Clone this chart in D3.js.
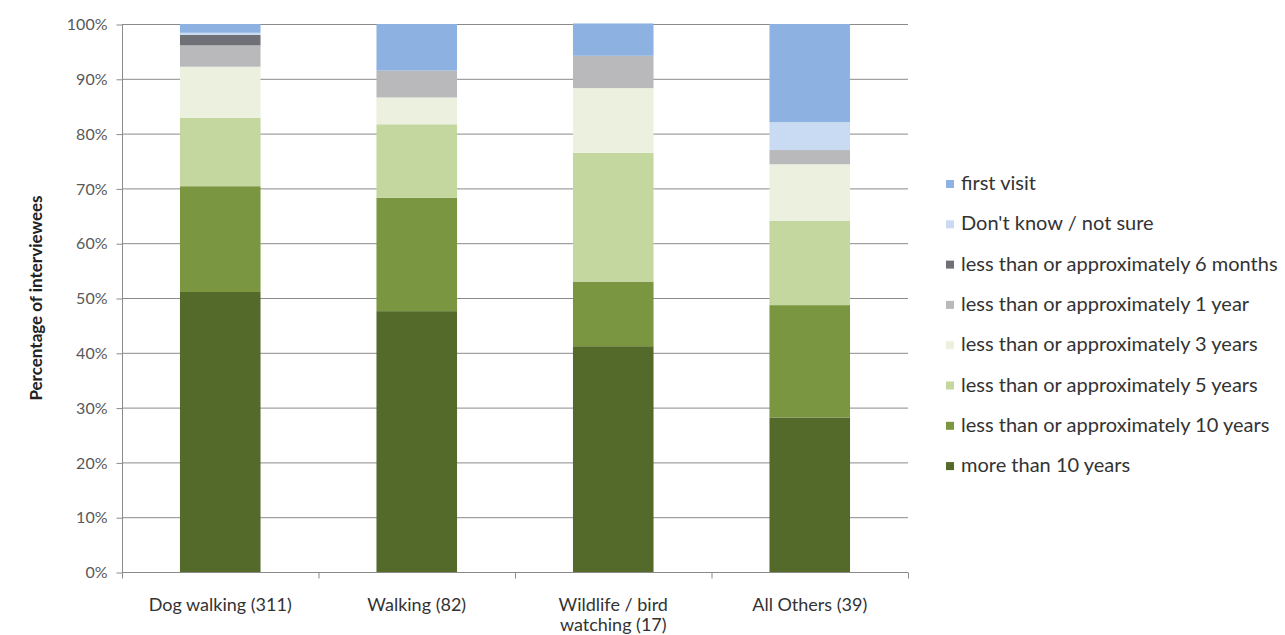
<!DOCTYPE html>
<html>
<head>
<meta charset="utf-8">
<script src="https://cdn.jsdelivr.net/npm/d3@7"></script>
<style>
  html, body { margin: 0; padding: 0; background: #fff; }
  svg { display: block; }
  text { font-family: Lato, "Open Sans", "DejaVu Sans", sans-serif; }
</style>
</head>
<body>
<svg id="chart" width="1285" height="635"></svg>
<script>
// Activity groups (number of interviewees in brackets)
const categories = ["Dog walking (311)", "Walking (82)", "Wildlife / bird watching (17)", "All Others (39)"];
const categoryLines = [["Dog walking (311)"], ["Walking (82)"], ["Wildlife / bird", "watching (17)"], ["All Others (39)"]];

// Length of visiting, stacked from the bottom up (percent of interviewees)
const seriesNames = [
  "more than 10 years",
  "less than or approximately 10 years",
  "less than or approximately 5 years",
  "less than or approximately 3 years",
  "less than or approximately 1 year",
  "less than or approximately 6 months",
  "Don't know / not sure",
  "first visit"
];
const moreThan10Years = [51.1, 47.6, 41.2, 28.2];
const upTo10Years     = [19.3, 20.7, 11.8, 20.5];
const upTo5Years      = [12.5, 13.4, 23.5, 15.4];
const upTo3Years      = [ 9.3,  4.9, 11.8, 10.3];
const upTo1Year       = [ 3.9,  4.9,  5.9,  2.6];
const upTo6Months     = [ 1.9,  0.0,  0.0,  0.0];
const dontKnow        = [ 0.4,  0.0,  0.0,  5.1];
const firstVisit      = [ 1.6,  8.5,  5.9, 17.9];

const seriesValues = [moreThan10Years, upTo10Years, upTo5Years, upTo3Years,
                      upTo1Year, upTo6Months, dontKnow, firstVisit];
const seriesColors = ["#546a2a", "#7a9640", "#c4d79e", "#ecf1df",
                      "#b9b9bb", "#6f7176", "#c9dbf2", "#8db2e2"];
const yTicks = [0, 10, 20, 30, 40, 50, 60, 70, 80, 90, 100];

const svg = d3.select("#chart");
const plotLeft = 122, plotRight = 908, plotTop = 24, plotBottom = 572;

const rows = categories.map((c, i) => {
  const r = { cat: c };
  seriesNames.forEach((s, k) => { r[s] = seriesValues[k][i]; });
  return r;
});
const stacked = d3.stack().keys(seriesNames)(rows);

const x = d3.scaleBand().domain(categories).range([plotLeft, plotRight])
  .paddingInner(0.59).paddingOuter(0.295);
const y = d3.scaleLinear().domain([0, 100]).range([plotBottom, plotTop]);
const color = d3.scaleOrdinal().domain(seriesNames).range(seriesColors);

// gridlines
svg.append("g").selectAll("line").data(yTicks.filter(t => t > 0)).join("line")
  .attr("x1", plotLeft).attr("x2", plotRight)
  .attr("y1", d => y(d) + 0.5).attr("y2", d => y(d) + 0.5)
  .attr("stroke", "#8a8a8a").attr("stroke-width", 1);

// stacked bars
svg.append("g").selectAll("g").data(stacked).join("g")
  .attr("fill", d => color(d.key))
  .selectAll("rect").data(d => d).join("rect")
  .attr("x", d => x(d.data.cat))
  .attr("width", x.bandwidth())
  .attr("y", d => y(d[1]))
  .attr("height", d => Math.max(0, y(d[0]) - y(d[1])));

// y axis
const yAxis = d3.axisLeft(y).tickValues(yTicks).tickFormat(d => d + "%").tickSize(6).tickPadding(9);
const gy = svg.append("g").attr("transform", `translate(${plotLeft + 0.5},0.5)`).call(yAxis);
gy.select(".domain").attr("stroke", "#8a8a8a").attr("d", `M0,${plotTop}V${plotBottom}`);
gy.selectAll(".tick line").attr("stroke", "#8a8a8a");
gy.selectAll(".tick text").attr("fill", "#595959").style("font-size", "16px")
  .style("font-family", "Lato, 'Open Sans', sans-serif");

// x axis with ticks between categories
const gx = svg.append("g").attr("transform", `translate(0,${plotBottom + 0.5})`);
gx.append("line").attr("x1", plotLeft).attr("x2", plotRight).attr("stroke", "#8a8a8a");
const step = x.step();
gx.selectAll("line.sep").data(d3.range(categories.length + 1)).join("line")
  .attr("class", "sep")
  .attr("x1", i => plotLeft + i * step + 0.5).attr("x2", i => plotLeft + i * step + 0.5)
  .attr("y1", 0).attr("y2", 6).attr("stroke", "#8a8a8a");
gx.selectAll("text").data(categories).join("text")
  .attr("x", d => x(d) + x.bandwidth() / 2)
  .attr("text-anchor", "middle")
  .attr("fill", "#333")
  .style("font-size", "18px")
  .each(function(d, i) {
    d3.select(this).selectAll("tspan").data(categoryLines[i]).join("tspan")
      .attr("x", x(d) + x.bandwidth() / 2)
      .attr("y", (t, j) => 38 + j * 20)
      .text(t => t);
  });

// y axis title
svg.append("text")
  .attr("transform", `translate(42,${(plotTop + plotBottom) / 2}) rotate(-90)`)
  .attr("text-anchor", "middle")
  .attr("fill", "#222")
  .style("font-size", "17px").style("font-weight", "bold")
  .text("Percentage of interviewees");

// legend (top entry is the top of the stack)
const legendOrder = seriesNames.slice().reverse();
const lg = svg.append("g").attr("transform", "translate(946,184)");
const item = lg.selectAll("g").data(legendOrder).join("g")
  .attr("transform", (d, i) => `translate(0,${i * 40.3})`);
item.append("rect").attr("x", 0).attr("y", -4).attr("width", 8).attr("height", 8)
  .attr("fill", d => color(d));
item.append("text").attr("x", 15).attr("y", 6)
  .attr("fill", "#333").style("font-size", "20px")
  .text(d => d);
</script>
</body>
</html>
